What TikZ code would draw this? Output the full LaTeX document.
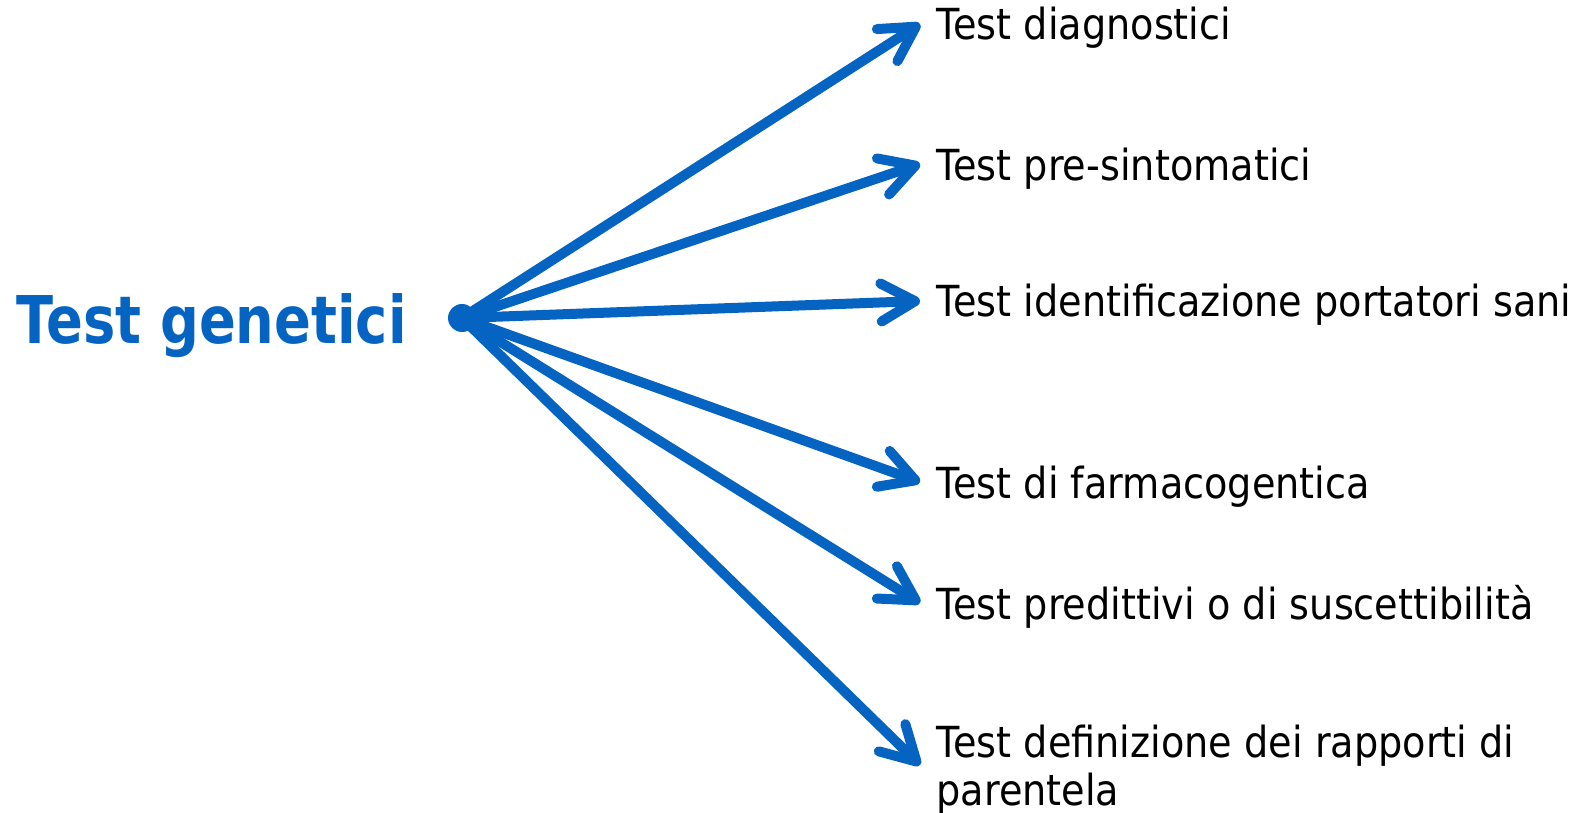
\documentclass[tikz,border=0pt]{standalone}
\usepackage{fontspec}
\setmainfont{DejaVu Sans}[FakeStretch=0.893]
\newfontfamily\titlefont{DejaVu Sans}[FakeStretch=0.825]
\usetikzlibrary{arrows.meta}
\definecolor{tblue}{RGB}{5,99,193}
\begin{document}
\begin{tikzpicture}[x=0.5pt,y=-0.5pt,
  lbl/.style={anchor=base west, inner sep=0pt, align=left,
    font=\fontsize{21.4pt}{24pt}\selectfont, text=black},
  conn/.style={draw=tblue, line width=5pt, line cap=round,
    -{Straight Barb[length=17pt,width=19pt,round]}}]
\useasboundingbox (0,0) rectangle (1580,813);
\node[anchor=base west, inner sep=0pt, text=tblue,
  font=\titlefont\bfseries\fontsize{32.9pt}{36pt}\selectfont] (title) at (16,343) {Test genetici};
\node[circle, fill=tblue, minimum size=14pt, inner sep=0pt] (hub) at (462,318) {};
\coordinate (t1) at (920,24);
\coordinate (t2) at (920,164);
\coordinate (t3) at (920,301);
\coordinate (t4) at (920,482);
\coordinate (t5) at (920,603);
\coordinate (t6) at (920,765);
\node[lbl] (l1) at (936,40) {Test diagnostici};
\node[lbl] (l2) at (936,180) {Test pre-sintomatici};
\node[lbl] (l3) at (936,316) {Test identificazione portatori sani};
\node[lbl] (l4) at (936,498) {Test di farmacogentica};
\node[lbl] (l5) at (936,619) {Test predittivi o di suscettibilità};
\node[lbl] (l6) at (936,805) {Test definizione dei rapporti di\\parentela};
\foreach \t in {t1,t2,t3,t4,t5,t6} \draw[conn] (hub.center) -- (\t);
\end{tikzpicture}
\end{document}
